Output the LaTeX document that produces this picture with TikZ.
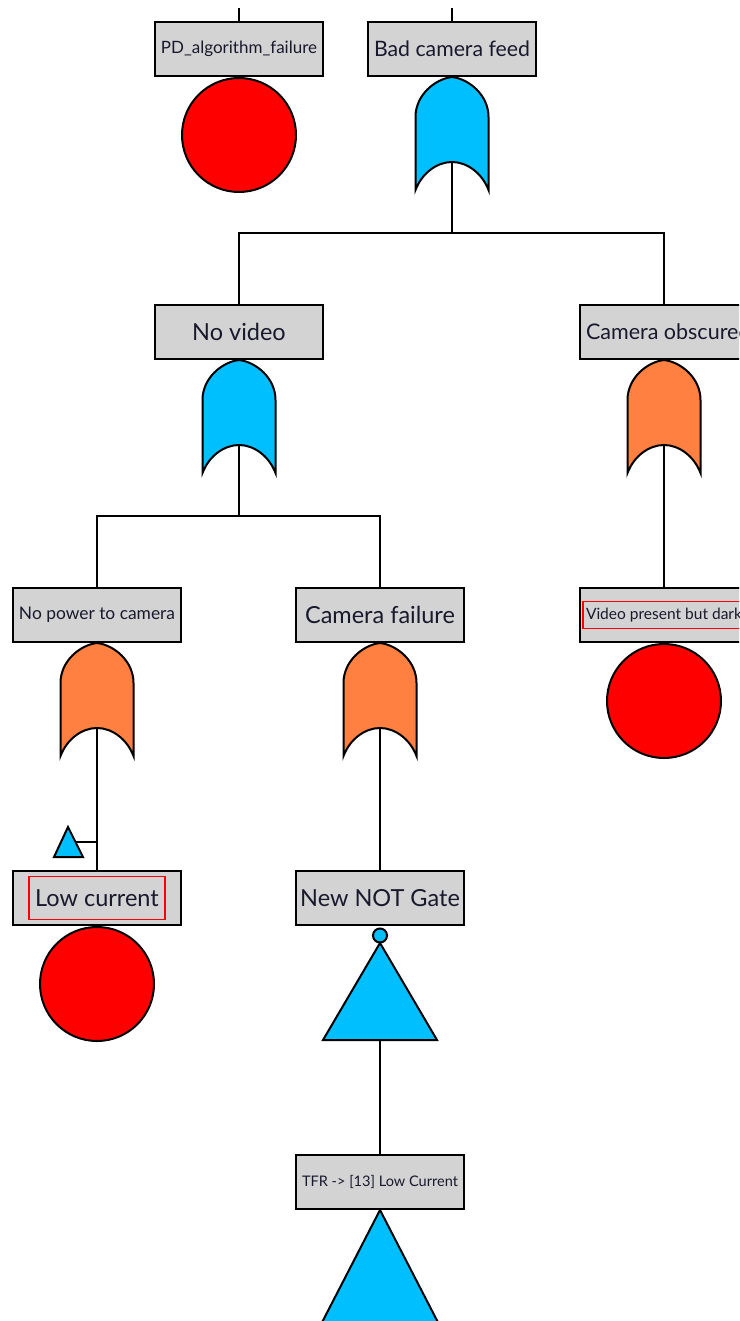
\documentclass[tikz,border=0pt]{standalone}
\usepackage{fontspec}
\setmainfont{Lato}
\usetikzlibrary{positioning}

\definecolor{gatecyan}{RGB}{0,191,255}
\definecolor{gateorange}{RGB}{255,128,64}
\definecolor{boxgray}{RGB}{211,211,211}
\definecolor{ink}{RGB}{25,25,45}

% long labels are shrunk to the box width
\newcommand{\shrinkto}[1]{\resizebox{156pt}{!}{#1}}

\tikzset{
  pics/orgate/.style = {code = {
    \filldraw[fill=#1] (-36.5,113) -- (-36.5,40)
      .. controls (-36.5,18) and (-17,2) .. (0,0)
      .. controls (17,2) and (36.5,18) .. (36.5,40)
      -- (36.5,113) .. controls (30,96) and (15,85) .. (0,85)
      .. controls (-15,85) and (-30,96) .. (-36.5,113) -- cycle;
    \coordinate (-in) at (0,85);
  }},
  pics/notgate/.style = {code = {
    \filldraw[fill=gatecyan] (0,9.5) circle (7);
    \filldraw[fill=gatecyan] (0,17) -- (57,114) -- (-57,114) -- cycle;
    \coordinate (-base) at (0,114);
  }}
}

\begin{document}
\begin{tikzpicture}[x=1pt, y=-1pt, line width=2pt,
    event/.style = {draw, fill=boxgray, text=ink, minimum width=168pt, minimum height=54pt, inner sep=0pt, font=\fontsize{23.5}{27}\selectfont},
    basic/.style = {draw, circle, fill=red, minimum size=114pt, inner sep=0pt},
    redframe/.style = {draw=red, line width=1.4pt, inner sep=0pt}]
  \clip (0,0) rectangle (739,1321);

  % events
  \node[event] (1) at (239,49) {\shrinkto{PD\_algorithm\_failure}};
  \node[event] (2) at (452,49) {\shrinkto{Bad camera feed}};
  \node[event] (3) at (239,332) {No video};
  \node[event] (4) at (664,332) {\makebox[156pt][l]{\fontsize{21.5}{26}\selectfont Camera obscured}};
  \node[event] (5) at (97,615) {\shrinkto{No power to camera}};
  \node[event] (6) at (380,615) {Camera failure};
  \node[event] (7) at (664,615) {\shrinkto{Video present but dark}};
  \node[event] (8) at (97,898) {Low current};
  \node[event] (9) at (380,898) {New NOT Gate};
  \node[event] (10) at (380,1182) {\shrinkto{TFR -> [13] Low Current}};

  \node[redframe, minimum width=136pt, minimum height=43pt] (r8) at (8) {};
  \node[redframe, minimum width=162pt, minimum height=27pt] (r7) at (7) {};

  % basic events
  \node[basic, below=0pt of 1] (c1) {};
  \node[basic, below=0pt of 7] (c7) {};
  \node[basic, below=0pt of 8] (c8) {};

  % gates
  \pic (g2) at (2.south) {orgate=gatecyan};
  \pic (g3) at (3.south) {orgate=gatecyan};
  \pic (g4) at (4.south) {orgate=gateorange};
  \pic (g5) at (5.south) {orgate=gateorange};
  \pic (g6) at (6.south) {orgate=gateorange};
  \pic (n9) at (9.south) {notgate};

  % transfer triangles
  \filldraw[fill=gatecyan] (54,857) -- (68,827) -- (83,857) -- cycle;
  \coordinate (tr) at (75.5,842);
  \filldraw[fill=gatecyan] (10.south) -- ++(-64,124) -- ++(128,0) -- cycle;

  % connectors
  \coordinate (t1) at (239,8);
  \coordinate (t2) at (452,8);
  \coordinate (b2) at (452,233);
  \coordinate (b3) at (239,516);
  \draw (1) -- (t1);
  \draw (2) -- (t2);
  \draw (g2-in) -- (b2);
  \draw (3) |- (b2) -| (4);
  \draw (g3-in) -- (b3);
  \draw (5) |- (b3) -| (6);
  \draw (g4-in) -- (7);
  \draw (g5-in) -- (8);
  \draw (tr) -- (tr -| 8);
  \draw (g6-in) -- (9);
  \draw (n9-base) -- (10);
\end{tikzpicture}
\end{document}
